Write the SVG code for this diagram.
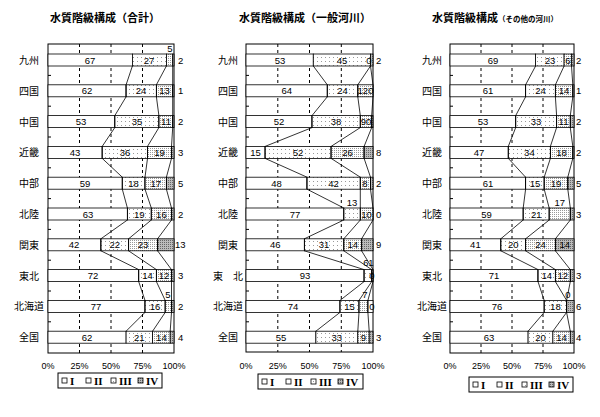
<svg xmlns="http://www.w3.org/2000/svg" width="600" height="417" viewBox="0 0 600 417">
<defs>
<pattern id="p2" width="4" height="4" patternUnits="userSpaceOnUse"><rect width="4" height="4" fill="#fff"/><rect x="1" y="1" width="1" height="1" fill="#999"/></pattern>
<pattern id="p3" width="2" height="2" patternUnits="userSpaceOnUse"><rect width="2" height="2" fill="#fff"/><rect width="1" height="1" fill="#999"/></pattern>
<pattern id="p4" width="2" height="2" patternUnits="userSpaceOnUse"><rect width="2" height="2" fill="#bbb"/><rect width="1" height="1" fill="#666"/></pattern>
</defs>
<style>
text{font-family:"Liberation Sans","Noto Sans CJK JP",sans-serif;fill:#000}
.t{font-size:11px;font-weight:bold;text-anchor:middle}
.c{font-size:10px;text-anchor:middle}
.n{font-size:9.5px;text-anchor:middle}
.r{font-size:9.5px}
.a{font-size:9px;text-anchor:middle}
.g{font-family:"Liberation Serif",serif;font-size:11px;font-weight:bold}
.fr{fill:none;stroke:#000;stroke-width:1}
.gd{stroke:#000;stroke-dasharray:3,3;stroke-width:1}
rect.b{stroke:#000;stroke-width:.8}
.w{fill:#fff}.s2{fill:url(#p2)}.s3{fill:url(#p3)}.s4{fill:url(#p4)}
polyline{fill:none;stroke:#000;stroke-width:.8}
.tk{stroke:#000;stroke-width:1}
</style>

<g id="titles">
<text class="t" x="105" y="22">水質階級構成（合計）</text>
<text class="t" x="305" y="22">水質階級構成（一般河川）</text>
<text class="t" x="495" y="22">水質階級構成<tspan font-size="7.5">（その他の河川）</tspan></text>
</g>

<g id="chart1">
<rect class="fr" x="48" y="44" width="126" height="309"/>
<line class="gd" x1="79.5" y1="44" x2="79.5" y2="353"/><line class="gd" x1="111" y1="44" x2="111" y2="353"/><line class="gd" x1="142.5" y1="44" x2="142.5" y2="353"/>
<path class="tk" d="M48 75.4h3M48 106.2h3M48 137h3M48 167.8h3M48 198.6h3M48 229.4h3M48 260.2h3M48 291h3M48 321.8h3"/>
<g id="c1-bars">
<rect class="b w" x="48" y="54" width="84.4" height="12"/><rect class="b s2" x="132.4" y="54" width="34" height="12"/><rect class="b s3" x="166.4" y="54" width="6.3" height="12"/><rect class="b s4" x="172.7" y="54" width="1.3" height="12"/>
<rect class="b w" x="48" y="84.8" width="78.1" height="12"/><rect class="b s2" x="126.1" y="84.8" width="30.3" height="12"/><rect class="b s3" x="156.4" y="84.8" width="16.3" height="12"/><rect class="b s4" x="172.7" y="84.8" width="1.3" height="12"/>
<rect class="b w" x="48" y="115.6" width="66.8" height="12"/><rect class="b s2" x="114.8" y="115.6" width="44.1" height="12"/><rect class="b s3" x="158.9" y="115.6" width="13.8" height="12"/><rect class="b s4" x="172.7" y="115.6" width="1.3" height="12"/>
<rect class="b w" x="48" y="146.4" width="54.2" height="12"/><rect class="b s2" x="102.2" y="146.4" width="45.3" height="12"/><rect class="b s3" x="147.5" y="146.4" width="24" height="12"/><rect class="b s4" x="171.5" y="146.4" width="2.5" height="12"/>
<rect class="b w" x="48" y="177.2" width="74.3" height="12"/><rect class="b s2" x="122.3" y="177.2" width="22.7" height="12"/><rect class="b s3" x="145" y="177.2" width="21.4" height="12"/><rect class="b s4" x="166.4" y="177.2" width="7.6" height="12"/>
<rect class="b w" x="48" y="208" width="79.4" height="12"/><rect class="b s2" x="127.4" y="208" width="23.9" height="12"/><rect class="b s3" x="151.3" y="208" width="20.2" height="12"/><rect class="b s4" x="171.5" y="208" width="2.5" height="12"/>
<rect class="b w" x="48" y="238.8" width="52.9" height="12"/><rect class="b s2" x="100.9" y="238.8" width="27.7" height="12"/><rect class="b s3" x="128.6" y="238.8" width="29" height="12"/><rect class="b s4" x="157.6" y="238.8" width="16.4" height="12"/>
<rect class="b w" x="48" y="269.6" width="90.7" height="12"/><rect class="b s2" x="138.7" y="269.6" width="17.7" height="12"/><rect class="b s3" x="156.4" y="269.6" width="15.1" height="12"/><rect class="b s4" x="171.5" y="269.6" width="2.5" height="12"/>
<rect class="b w" x="48" y="300.4" width="97" height="12"/><rect class="b s2" x="145" y="300.4" width="20.2" height="12"/><rect class="b s3" x="165.2" y="300.4" width="6.3" height="12"/><rect class="b s4" x="171.5" y="300.4" width="2.5" height="12"/>
<rect class="b w" x="48" y="331.2" width="78.1" height="12"/><rect class="b s2" x="126.1" y="331.2" width="26.5" height="12"/><rect class="b s3" x="152.6" y="331.2" width="17.6" height="12"/><rect class="b s4" x="170.2" y="331.2" width="3.8" height="12"/>
</g>
<g id="c1-links">
<polyline points="132.4,66 126.1,84.8 126.1,96.8 114.8,115.6 114.8,127.6 102.2,146.4 102.2,158.4 122.3,177.2 122.3,189.2 127.4,208 127.4,220 100.9,238.8 100.9,250.8 138.7,269.6 138.7,281.6 145,300.4 145,312.4 126.1,331.2"/>
<polyline points="166.4,66 156.4,84.8 156.4,96.8 158.9,115.6 158.9,127.6 147.5,146.4 147.5,158.4 145,177.2 145,189.2 151.3,208 151.3,220 128.6,238.8 128.6,250.8 156.4,269.6 156.4,281.6 165.2,300.4 165.2,312.4 152.6,331.2"/>
<polyline points="172.7,66 172.7,84.8 172.7,96.8 172.7,115.6 172.7,127.6 171.5,146.4 171.5,158.4 166.4,177.2 166.4,189.2 171.5,208 171.5,220 157.6,238.8 157.6,250.8 171.5,269.6 171.5,281.6 171.5,300.4 171.5,312.4 170.2,331.2"/>
</g>
<g id="c1-labels">
<text class="n" x="90" y="63.5">67</text><text class="n" x="149" y="63.5">27</text><text class="n" x="170" y="52">5</text><text class="r" x="178" y="63.5">2</text>
<text class="n" x="87" y="94.3">62</text><text class="n" x="141" y="94.3">24</text><text class="n" x="164.5" y="94.3">13</text><text class="r" x="178" y="94.3">1</text>
<text class="n" x="81" y="125.1">53</text><text class="n" x="137" y="125.1">35</text><text class="n" x="166" y="125.1">11</text><text class="r" x="178" y="125.1">2</text>
<text class="n" x="75" y="155.9">43</text><text class="n" x="125" y="155.9">36</text><text class="n" x="159.5" y="155.9">19</text><text class="r" x="178" y="155.9">3</text>
<text class="n" x="85" y="186.7">59</text><text class="n" x="133.5" y="186.7">18</text><text class="n" x="155.7" y="186.7">17</text><text class="r" x="178" y="186.7">5</text>
<text class="n" x="88" y="217.5">63</text><text class="n" x="139.3" y="217.5">19</text><text class="n" x="161.4" y="217.5">16</text><text class="r" x="178" y="217.5">2</text>
<text class="n" x="74" y="248.3">42</text><text class="n" x="114.7" y="248.3">22</text><text class="n" x="143" y="248.3">23</text><text class="r" x="175" y="248.3">13</text>
<text class="n" x="93" y="279.1">72</text><text class="n" x="147.5" y="279.1">14</text><text class="n" x="164" y="279.1">12</text><text class="r" x="178" y="279.1">3</text>
<text class="n" x="96" y="309.9">77</text><text class="n" x="155" y="309.9">16</text><text class="n" x="168" y="298">5</text><text class="r" x="178" y="309.9">2</text>
<text class="n" x="87" y="340.7">62</text><text class="n" x="139.3" y="340.7">21</text><text class="n" x="161.4" y="340.7">14</text><text class="r" x="178" y="340.7">4</text>
</g>
<g id="c1-cats">
<text class="c" x="29" y="64">九州</text><text class="c" x="29" y="94.8">四国</text><text class="c" x="29" y="125.6">中国</text><text class="c" x="29" y="156.4">近畿</text><text class="c" x="29" y="187.2">中部</text><text class="c" x="29" y="218">北陸</text><text class="c" x="29" y="248.8">関東</text><text class="c" x="29" y="279.6">東北</text><text class="c" x="29" y="310.4">北海道</text><text class="c" x="29" y="341.2">全国</text>
</g>
<g id="c1-axis"><text class="a" x="48" y="369">0%</text><text class="a" x="79.5" y="369">25%</text><text class="a" x="111" y="369">50%</text><text class="a" x="142.5" y="369">75%</text><text class="a" x="174" y="369">100%</text></g>
<g id="c1-legend">
<rect class="fr" x="58" y="373" width="104" height="15"/>
<rect class="b w" x="62" y="378" width="5" height="5"/><text class="g" x="70" y="385">I</text>
<rect class="b w" x="86" y="378" width="5" height="5"/><text class="g" x="94" y="385">II</text>
<rect class="b s2" x="111" y="378" width="5" height="5"/><text class="g" x="119" y="385">III</text>
<rect class="b s4" x="138" y="378" width="5" height="5"/><text class="g" x="146" y="385">IV</text>
</g>
</g>

<g id="chart2">
<rect class="fr" x="246" y="44" width="127" height="308"/>
<line class="gd" x1="277.8" y1="44" x2="277.8" y2="352"/><line class="gd" x1="309.5" y1="44" x2="309.5" y2="352"/><line class="gd" x1="341.3" y1="44" x2="341.3" y2="352"/>
<path class="tk" d="M246 75.4h3M246 106.2h3M246 137h3M246 167.8h3M246 198.6h3M246 229.4h3M246 260.2h3M246 291h3M246 321.8h3"/>
<g id="c2-bars">
<rect class="b w" x="246" y="54" width="67.3" height="12"/><rect class="b s2" x="313.3" y="54" width="57.2" height="12"/><rect class="b s4" x="370.5" y="54" width="2.5" height="12"/>
<rect class="b w" x="246" y="84.8" width="81.3" height="12"/><rect class="b s2" x="327.3" y="84.8" width="30.5" height="12"/><rect class="b s3" x="357.8" y="84.8" width="15.2" height="12"/>
<rect class="b w" x="246" y="115.6" width="66" height="12"/><rect class="b s2" x="312" y="115.6" width="48.3" height="12"/><rect class="b s3" x="360.3" y="115.6" width="11.4" height="12"/><rect class="b s4" x="371.7" y="115.6" width="1.3" height="12"/>
<rect class="b w" x="246" y="146.4" width="19.1" height="12"/><rect class="b s2" x="265.1" y="146.4" width="66" height="12"/><rect class="b s3" x="331.1" y="146.4" width="33" height="12"/><rect class="b s4" x="364.1" y="146.4" width="8.9" height="12"/>
<rect class="b w" x="246" y="177.2" width="61" height="12"/><rect class="b s2" x="307" y="177.2" width="53.3" height="12"/><rect class="b s3" x="360.3" y="177.2" width="10.2" height="12"/><rect class="b s4" x="370.5" y="177.2" width="2.5" height="12"/>
<rect class="b w" x="246" y="208" width="97.8" height="12"/><rect class="b s2" x="343.8" y="208" width="16.5" height="12"/><rect class="b s3" x="360.3" y="208" width="12.7" height="12"/>
<rect class="b w" x="246" y="238.8" width="58.4" height="12"/><rect class="b s2" x="304.4" y="238.8" width="39.4" height="12"/><rect class="b s3" x="343.8" y="238.8" width="17.8" height="12"/><rect class="b s4" x="361.6" y="238.8" width="11.4" height="12"/>
<rect class="b w" x="246" y="269.6" width="118.1" height="12"/><rect class="b s2" x="364.1" y="269.6" width="7.6" height="12"/><rect class="b s3" x="371.7" y="269.6" width="1.3" height="12"/>
<rect class="b w" x="246" y="300.4" width="94" height="12"/><rect class="b s2" x="340" y="300.4" width="19" height="12"/><rect class="b s3" x="359" y="300.4" width="8.9" height="12"/><rect class="b w" x="367.9" y="300.4" width="5.1" height="12"/>
<rect class="b w" x="246" y="331.2" width="69.9" height="12"/><rect class="b s2" x="315.9" y="331.2" width="41.9" height="12"/><rect class="b s3" x="357.8" y="331.2" width="11.4" height="12"/><rect class="b s4" x="369.2" y="331.2" width="3.8" height="12"/>
</g>
<g id="c2-links">
<polyline points="313.3,66 327.3,84.8 327.3,96.8 312,115.6 312,127.6 265.1,146.4 265.1,158.4 307,177.2 307,189.2 343.8,208 343.8,220 304.4,238.8 304.4,250.8 364.1,269.6 364.1,281.6 340,300.4 340,312.4 315.9,331.2"/>
<polyline points="370.5,66 357.8,84.8 357.8,96.8 360.3,115.6 360.3,127.6 331.1,146.4 331.1,158.4 360.3,177.2 360.3,189.2 360.3,208 360.3,220 343.8,238.8 343.8,250.8 371.7,269.6 371.7,281.6 359,300.4 359,312.4 357.8,331.2"/>
<polyline points="370.5,66 373,84.8 373,96.8 371.7,115.6 371.7,127.6 364.1,146.4 364.1,158.4 370.5,177.2 370.5,189.2 373,208 373,220 361.6,238.8 361.6,250.8 373,269.6 373,281.6 367.9,300.4 367.9,312.4 369.2,331.2"/>
</g>
<g id="c2-labels">
<text class="n" x="280" y="63.5">53</text><text class="n" x="342" y="63.5">45</text><text class="n" x="369" y="63.5">0</text><text class="r" x="376" y="63.5">2</text>
<text class="n" x="286.7" y="94.3">64</text><text class="n" x="342.5" y="94.3">24</text><text class="n" x="365.5" y="94.3">120</text>
<text class="n" x="279" y="125.1">52</text><text class="n" x="336" y="125.1">38</text><text class="n" x="366" y="125.1">90</text>
<text class="n" x="255.5" y="155.9">15</text><text class="n" x="298" y="155.9">52</text><text class="n" x="347.6" y="155.9">26</text><text class="r" x="376" y="155.9">8</text>
<text class="n" x="276.5" y="186.7">48</text><text class="n" x="333.6" y="186.7">42</text><text class="n" x="365" y="186.7">8</text><text class="r" x="376" y="186.7">2</text>
<text class="n" x="295" y="217.5">77</text><text class="n" x="352" y="206">13</text><text class="n" x="366.5" y="217.5">10</text><text class="r" x="376" y="217.5">0</text>
<text class="n" x="275.2" y="248.3">46</text><text class="n" x="324" y="248.3">31</text><text class="n" x="352.7" y="248.3">14</text><text class="r" x="376" y="248.3">9</text>
<text class="n" x="305" y="279.1">93</text><text class="n" x="366" y="266" font-size="7">6</text><text class="n" x="371" y="266" font-size="7">1</text><text class="n" x="372" y="279.1">0</text>
<text class="n" x="293" y="309.9">74</text><text class="n" x="349.5" y="309.9">15</text><text class="n" x="365" y="298">7</text><text class="n" x="372" y="309.9">0</text>
<text class="n" x="281" y="340.7">55</text><text class="n" x="336.8" y="340.7">33</text><text class="n" x="363.5" y="340.7">9</text><text class="r" x="376" y="340.7">3</text>
</g>
<g id="c2-cats">
<text class="c" x="228" y="64">九州</text><text class="c" x="228" y="94.8">四国</text><text class="c" x="228" y="125.6">中国</text><text class="c" x="228" y="156.4">近畿</text><text class="c" x="228" y="187.2">中部</text><text class="c" x="228" y="218">北陸</text><text class="c" x="228" y="248.8">関東</text><text class="c" x="228" y="279.6">東　北</text><text class="c" x="228" y="310.4">北海道</text><text class="c" x="228" y="341.2">全国</text>
</g>
<g id="c2-axis"><text class="a" x="246" y="369">0%</text><text class="a" x="277.8" y="369">25%</text><text class="a" x="309.5" y="369">50%</text><text class="a" x="341.3" y="369">75%</text><text class="a" x="373" y="369">100%</text></g>
<g id="c2-legend">
<rect class="fr" x="258" y="374" width="105" height="15"/>
<rect class="b w" x="262" y="379" width="5" height="5"/><text class="g" x="270" y="386">I</text>
<rect class="b w" x="286" y="379" width="5" height="5"/><text class="g" x="294" y="386">II</text>
<rect class="b s2" x="311" y="379" width="5" height="5"/><text class="g" x="319" y="386">III</text>
<rect class="b s4" x="338" y="379" width="5" height="5"/><text class="g" x="346" y="386">IV</text>
</g>
</g>

<g id="chart3">
<rect class="fr" x="450" y="44" width="124" height="309"/>
<line class="gd" x1="481" y1="44" x2="481" y2="353"/><line class="gd" x1="512" y1="44" x2="512" y2="353"/><line class="gd" x1="543" y1="44" x2="543" y2="353"/>
<path class="tk" d="M450 75.4h3M450 106.2h3M450 137h3M450 167.8h3M450 198.6h3M450 229.4h3M450 260.2h3M450 291h3M450 321.8h3"/>
<g id="c3-bars">
<rect class="b w" x="450" y="54" width="85.6" height="12"/><rect class="b s2" x="535.6" y="54" width="28.5" height="12"/><rect class="b s3" x="564.1" y="54" width="7.4" height="12"/><rect class="b s4" x="571.5" y="54" width="2.5" height="12"/>
<rect class="b w" x="450" y="84.8" width="75.6" height="12"/><rect class="b s2" x="525.6" y="84.8" width="29.8" height="12"/><rect class="b s3" x="555.4" y="84.8" width="17.4" height="12"/><rect class="b s4" x="572.8" y="84.8" width="1.2" height="12"/>
<rect class="b w" x="450" y="115.6" width="65.7" height="12"/><rect class="b s2" x="515.7" y="115.6" width="40.9" height="12"/><rect class="b s3" x="556.6" y="115.6" width="13.7" height="12"/><rect class="b s4" x="570.3" y="115.6" width="3.7" height="12"/>
<rect class="b w" x="450" y="146.4" width="58.3" height="12"/><rect class="b s2" x="508.3" y="146.4" width="42.1" height="12"/><rect class="b s3" x="550.4" y="146.4" width="22.4" height="12"/><rect class="b s4" x="572.8" y="146.4" width="1.2" height="12"/>
<rect class="b w" x="450" y="177.2" width="75.6" height="12"/><rect class="b s2" x="525.6" y="177.2" width="18.6" height="12"/><rect class="b s3" x="544.2" y="177.2" width="23.6" height="12"/><rect class="b s4" x="567.8" y="177.2" width="6.2" height="12"/>
<rect class="b w" x="450" y="208" width="73.2" height="12"/><rect class="b s2" x="523.2" y="208" width="26" height="12"/><rect class="b s3" x="549.2" y="208" width="21.1" height="12"/><rect class="b s4" x="570.3" y="208" width="3.7" height="12"/>
<rect class="b w" x="450" y="238.8" width="50.8" height="12"/><rect class="b s2" x="500.8" y="238.8" width="24.8" height="12"/><rect class="b s3" x="525.6" y="238.8" width="29.8" height="12"/><rect class="b s4" x="555.4" y="238.8" width="18.6" height="12"/>
<rect class="b w" x="450" y="269.6" width="88" height="12"/><rect class="b s2" x="538" y="269.6" width="17.4" height="12"/><rect class="b s3" x="555.4" y="269.6" width="14.9" height="12"/><rect class="b s4" x="570.3" y="269.6" width="3.7" height="12"/>
<rect class="b w" x="450" y="300.4" width="94.2" height="12"/><rect class="b s2" x="544.2" y="300.4" width="22.4" height="12"/><rect class="b s4" x="566.6" y="300.4" width="7.4" height="12"/>
<rect class="b w" x="450" y="331.2" width="78.1" height="12"/><rect class="b s2" x="528.1" y="331.2" width="24.8" height="12"/><rect class="b s3" x="552.9" y="331.2" width="17.4" height="12"/><rect class="b s4" x="570.3" y="331.2" width="3.7" height="12"/>
</g>
<g id="c3-links">
<polyline points="535.6,66 525.6,84.8 525.6,96.8 515.7,115.6 515.7,127.6 508.3,146.4 508.3,158.4 525.6,177.2 525.6,189.2 523.2,208 523.2,220 500.8,238.8 500.8,250.8 538,269.6 538,281.6 544.2,300.4 544.2,312.4 528.1,331.2"/>
<polyline points="564.1,66 555.4,84.8 555.4,96.8 556.6,115.6 556.6,127.6 550.4,146.4 550.4,158.4 544.2,177.2 544.2,189.2 549.2,208 549.2,220 525.6,238.8 525.6,250.8 555.4,269.6 555.4,281.6 566.6,300.4 566.6,312.4 552.9,331.2"/>
<polyline points="571.5,66 572.8,84.8 572.8,96.8 570.3,115.6 570.3,127.6 572.8,146.4 572.8,158.4 567.8,177.2 567.8,189.2 570.3,208 570.3,220 555.4,238.8 555.4,250.8 570.3,269.6 570.3,281.6 566.6,300.4 566.6,312.4 570.3,331.2"/>
</g>
<g id="c3-labels">
<text class="n" x="493" y="63.5">69</text><text class="n" x="550" y="63.5">23</text><text class="n" x="568" y="63.5">6</text><text class="r" x="576" y="63.5">2</text>
<text class="n" x="488" y="94.3">61</text><text class="n" x="540.5" y="94.3">24</text><text class="n" x="564" y="94.3">14</text><text class="r" x="576" y="94.3">1</text>
<text class="n" x="483" y="125.1">53</text><text class="n" x="536" y="125.1">33</text><text class="n" x="563.5" y="125.1">11</text><text class="r" x="576" y="125.1">2</text>
<text class="n" x="479" y="155.9">47</text><text class="n" x="529.4" y="155.9">34</text><text class="n" x="561.6" y="155.9">18</text><text class="r" x="576" y="155.9">2</text>
<text class="n" x="488" y="186.7">61</text><text class="n" x="535" y="186.7">15</text><text class="n" x="556" y="186.7">19</text><text class="r" x="576" y="186.7">5</text>
<text class="n" x="486.6" y="217.5">59</text><text class="n" x="536.2" y="217.5">21</text><text class="n" x="559.8" y="206">17</text><text class="r" x="576" y="217.5">3</text>
<text class="n" x="475.4" y="248.3">41</text><text class="n" x="513.2" y="248.3">20</text><text class="n" x="540.5" y="248.3">24</text><text class="n" x="564.7" y="248.3">14</text>
<text class="n" x="494" y="279.1">71</text><text class="n" x="546.7" y="279.1">14</text><text class="n" x="562.8" y="279.1">12</text><text class="r" x="576" y="279.1">3</text>
<text class="n" x="497" y="309.9">76</text><text class="n" x="555.4" y="309.9">18</text><text class="n" x="568" y="298" font-size="7">0</text><text class="r" x="576" y="309.9">6</text>
<text class="n" x="489" y="340.7">63</text><text class="n" x="540.5" y="340.7">20</text><text class="n" x="561.6" y="340.7">14</text><text class="r" x="576" y="340.7">4</text>
</g>
<g id="c3-cats">
<text class="c" x="432" y="64">九州</text><text class="c" x="432" y="94.8">四国</text><text class="c" x="432" y="125.6">中国</text><text class="c" x="432" y="156.4">近畿</text><text class="c" x="432" y="187.2">中部</text><text class="c" x="432" y="218">北陸</text><text class="c" x="432" y="248.8">関東</text><text class="c" x="432" y="279.6">東北</text><text class="c" x="432" y="310.4">北海道</text><text class="c" x="432" y="341.2">全国</text>
</g>
<g id="c3-axis"><text class="a" x="450" y="369">0%</text><text class="a" x="481" y="369">25%</text><text class="a" x="512" y="369">50%</text><text class="a" x="543" y="369">75%</text><text class="a" x="574" y="369">100%</text></g>
<g id="c3-legend">
<rect class="fr" x="469" y="377" width="104" height="15"/>
<rect class="b w" x="473" y="382" width="5" height="5"/><text class="g" x="481" y="389">I</text>
<rect class="b w" x="497" y="382" width="5" height="5"/><text class="g" x="505" y="389">II</text>
<rect class="b s2" x="522" y="382" width="5" height="5"/><text class="g" x="530" y="389">III</text>
<rect class="b s4" x="549" y="382" width="5" height="5"/><text class="g" x="557" y="389">IV</text>
</g>
</g>
</svg>
